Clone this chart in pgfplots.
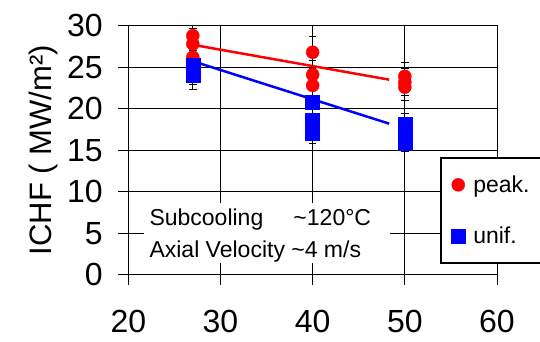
\documentclass[border=0pt]{standalone}
\usepackage{fontspec}
\setmainfont{Liberation Sans}
\usepackage{pgfplots}
\usepackage{pgfplotstable}
\pgfplotsset{compat=1.18}

% ICHF measurements: x = mass flux position, y = ICHF, e = error
\pgfplotstableread{
x  y    e
27 28.8 2.0
27 27.8 1.9
27 26.2 1.8
40 26.8 1.9
40 24.1 1.7
40 22.8 1.6
50 23.9 1.7
50 23.2 1.6
50 22.6 1.6
}\peak

\pgfplotstableread{
x  y    e
27 25.2 1.8
27 24.6 1.7
27 24.0 1.7
40 20.8 1.5
40 18.6 1.3
40 17.8 1.2
40 17.0 1.2
50 18.1 1.3
50 17.2 1.2
50 16.4 1.1
50 15.9 1.1
}\unif

\begin{document}
\begin{tikzpicture}
\useasboundingbox (0,0) rectangle (540pt,341pt);
\begin{axis}[
  at={(128.3pt,66.3pt)}, anchor=south west,
  scale only axis, width=368.7pt, height=249pt,
  xmin=20, xmax=60, ymin=0, ymax=30,
  xtick={20,30,40,50,60}, ytick={0,5,10,15,20,25,30},
  tick align=outside, xtick pos=left, ytick pos=left,
  major tick length=10pt,
  grid=major, grid style={black, line width=0.8pt},
  axis line style={line width=0.8pt},
  every tick/.style={black, line width=0.8pt},
  /pgf/number format/assume math mode=true,
  tick label style={font=\fontsize{32}{38}\selectfont},
  xticklabel style={yshift=-22pt},
  yticklabel style={xshift=-12pt},
  ylabel={ICHF ( MW/m²)},
  every axis y label/.style={at={(axis description cs:-0.207,0.5)}, rotate=90, anchor=base, font=\fontsize{31}{37}\selectfont},
  legend style={at={(0.8454,0.4727)}, anchor=north west, draw=black, line width=1.5pt, fill=white,
    font=\fontsize{23}{27}\selectfont, inner xsep=10.5pt, inner ysep=16pt, row sep=29pt, cells={anchor=west}},
  legend image code/.code={\path[draw=none, fill=none] (0pt,-7pt) rectangle (20pt,7pt); \draw[line width=0.4pt,#1] plot coordinates {(7pt,0pt)};},
]
% error bars behind the markers
\addplot[only marks, mark=none, forget plot,
  error bars/.cd, y dir=both, y explicit,
  error bar style={black, solid, line width=1.2pt},
  error mark options={black, line width=1.2pt, mark size=3.7pt, rotate=90}]
  table[x=x, y=y, y error=e] {\peak};
\addplot[only marks, mark=none, forget plot,
  error bars/.cd, y dir=both, y explicit,
  error bar style={black, solid, line width=1.2pt},
  error mark options={black, line width=1.2pt, mark size=3.7pt, rotate=90}]
  table[x=x, y=y, y error=e] {\unif};

\addplot[only marks, mark=*, mark size=6.5pt, mark options={fill=red, draw=red, line width=0.4pt}]
  table[x=x, y=y] {\peak};
\addlegendentry{peak.}
\addplot[only marks, mark=square*, mark size=7pt, mark options={fill=blue, draw=blue, line width=0.4pt}]
  table[x=x, y=y] {\unif};
\addlegendentry{unif.}

% trend lines
\addplot[red, line width=2.5pt, forget plot] coordinates {(26.5,27.8) (48.3,23.5)};
\addplot[blue, line width=2.5pt, forget plot] coordinates {(26.5,25.9) (48.3,18.2)};

% test conditions
\fill[white] (axis cs:21.71,1.40) rectangle (axis cs:48.4,8.63);
\node[anchor=base west, inner sep=0pt, font=\fontsize{23}{27}\selectfont] at (axis cs:22.28,5.90) {Subcooling};
\node[anchor=base west, inner sep=0pt, font=\fontsize{23}{27}\selectfont] at (axis cs:37.9,5.90) {\textasciitilde120°C};
\node[anchor=base west, inner sep=0pt, font=\fontsize{23}{27}\selectfont] at (axis cs:22.28,2.13) {Axial Velocity \textasciitilde4 m/s};
\end{axis}
\end{tikzpicture}
\end{document}
